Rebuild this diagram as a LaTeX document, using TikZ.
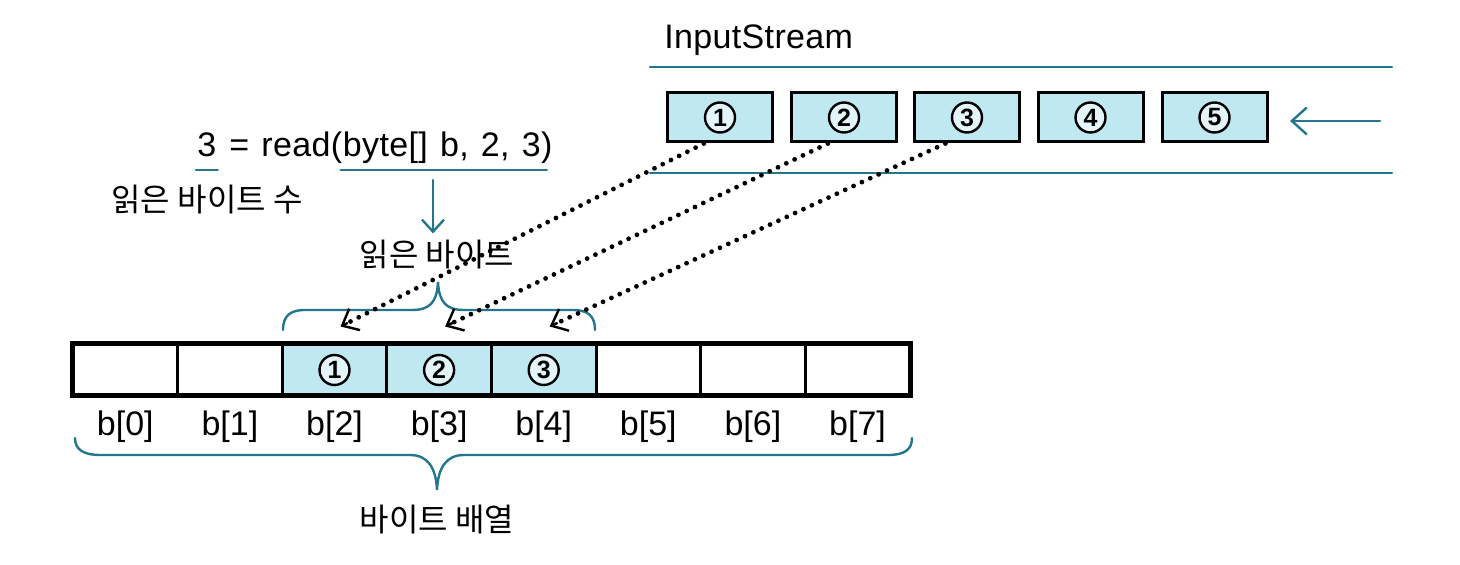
\documentclass[tikz,border=0pt]{standalone}
\usepackage{fontspec}
\setmainfont{Liberation Sans}
\newfontfamily\kr{Noto Sans CJK KR}
\newfontfamily\readfont{Liberation Sans}[WordSpace=1.25,LetterSpace=1]
\usetikzlibrary{arrows.meta,calc}
\definecolor{tealline}{RGB}{35,118,140}
\definecolor{cyanfill}{RGB}{192,232,240}
\begin{document}
\begin{tikzpicture}[x=0.5pt,y=-0.5pt,
  every node/.style={font=\fontsize{17}{20}\selectfont},
  tl/.style={draw=tealline,line width=1.2pt,line cap=round},
  sbox/.style={draw=black,line width=1.5pt,fill=cyanfill,minimum width=52.5pt,minimum height=24.5pt,inner sep=0pt},
  cell/.style={draw=black,line width=1.5pt,minimum width=52.3pt,minimum height=25pt,inner sep=0pt},
  filled/.style={fill=cyanfill},
  num/.style={circle,draw=black,line width=1.2pt,minimum size=15pt,inner sep=0pt,fill=white!55!cyanfill,font=\fontsize{12.5}{13}\selectfont\bfseries},
  dots/.style={draw=black,line width=2.4pt,line cap=round,dash pattern=on 0pt off 4.6pt,shorten >=4pt},
  tip/.style={draw=black,line width=1.2pt,-{Straight Barb[length=7pt,width=12pt,line width=1.2pt,sep=0pt]}},
  kr/.style={font=\kr\fontsize{16}{20}\selectfont}
]
\useasboundingbox (0,0) rectangle (1460,565);

% InputStream
\node[anchor=west,inner sep=0pt,font=\readfont\fontsize{17}{20}\selectfont] (title) at (664,40) {InputStream};
\coordinate (tl1) at (650,67);  \coordinate (tr1) at (1392,67);
\coordinate (tl2) at (650,173); \coordinate (tr2) at (1392,173);
\draw[tl] (tl1) -- (tr1);
\draw[tl] (tl2) -- (tr2);

\foreach \i/\x in {1/720,2/844,3/967,4/1090.5,5/1214.5}{
  \node[sbox] (s\i) at (\x,117.5) {};
  \node[num] (sn\i) at (s\i) {\i};
}
\coordinate (aS) at (1380,121);
\coordinate (aE) at (1290,121);
\draw[tl,-{Straight Barb[length=7.5pt,width=13.5pt,line width=1.2pt]}] (aS) -- (aE);

% read call
\tikzset{rd/.style={anchor=base west,inner sep=0pt,font=\readfont\fontsize{17}{20}\selectfont}}
\node[rd] (n3) at (197,157) {3};
\node[rd] (neq) at (n3.base east) {\ = read(};
\node[rd] (nargs) at (neq.base east) {byte[] b, 2, 3)};
\coordinate (u3a) at ($(n3.base west)+(-1,13)$);
\coordinate (u3b) at ($(n3.base east)+(1,13)$);
\draw[tl] (u3a) -- (u3b);
\coordinate (uaa) at ($(nargs.base west)+(-2,13)$);
\coordinate (uab) at ($(nargs.base east)+(-6,13)$);
\draw[tl] (uaa) -- (uab);

\node[kr,anchor=center] (nread) at (207,200) {읽은 바이트 수};
\node[kr,anchor=center] (lbl) at (437,255) {읽은 바이트};
\coordinate (rarrS) at (433,180);
\draw[tl,-{Straight Barb[length=6pt,width=11pt,line width=1.2pt]}] (rarrS) -- (lbl.north -| rarrS);

% byte array
\foreach \k in {0,...,7}{
  \node[cell] (c\k) at ({125.3+104.6*\k},370) {};
  \node (b\k) at ({125.3+104.6*\k},427) {b[\k]};
}
\foreach \k/\n in {2/1,3/2,4/3}{
  \node[cell,filled] (c\k) at ({125.3+104.6*\k},370) {};
  \node[num] (cn\k) at (c\k) {\n};
}
\draw[line width=2pt] (c0.north west) rectangle (c7.south east);

% top brace
\draw[tl] (283,330) .. controls (283,316) and (290,310) .. (305,310) -- (412,310)
  .. controls (430,310) and (437,302) .. (438,282)
  .. controls (439,302) and (446,310) .. (464,310) -- (573,310)
  .. controls (588,310) and (595,316) .. (595,330);

% bottom brace
\draw[tl] (75,438) .. controls (75,450) and (84,455) .. (100,455) -- (410,455)
  .. controls (428,455) and (436,468) .. (437,490)
  .. controls (438,468) and (446,455) .. (464,455) -- (888,455)
  .. controls (904,455) and (912,450) .. (912,438);
\node[kr] (arr) at (437,520) {바이트 배열};

% dotted transfers
\coordinate (d1) at ($(c2.north)+(6,-17)$);
\coordinate (d2) at ($(c3.north)+(6,-17)$);
\coordinate (d3) at ($(c4.north)+(6,-17)$);
\coordinate (e1) at ($(s1.south west)!0.35!(s1.south east)$);
\coordinate (e2) at ($(s2.south west)!0.35!(s2.south east)$);
\coordinate (e3) at ($(s3.south west)!0.3!(s3.south east)$);
\foreach \i in {1,2,3}{
  \draw[dots] (e\i) -- (d\i);
  \draw[tip] ($(d\i)!0.02!(e\i)$) -- (d\i);
}
\end{tikzpicture}
\end{document}
